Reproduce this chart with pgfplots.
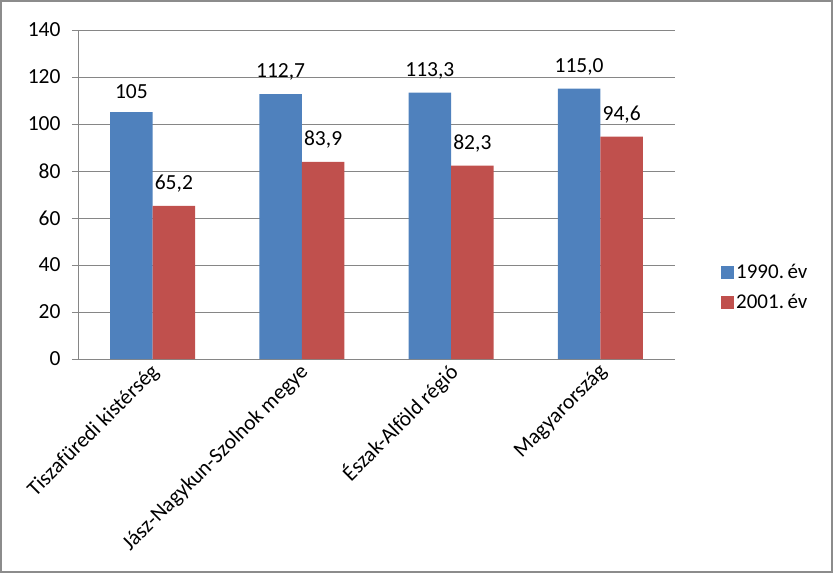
\documentclass[border=0pt]{standalone}
\usepackage{pgfplots}
\pgfplotsset{compat=1.18}
\usepackage{pgfplotstable}
\usepackage{fontspec}
\setmainfont{Carlito}
\definecolor{cblue}{HTML}{4F81BD}
\definecolor{cred}{HTML}{C0504D}
\definecolor{cgrid}{HTML}{868686}
\definecolor{cframe}{HTML}{8C8C8C}
\pgfplotstableread{
x y lab
0 105   105
1 112.7 {112,7}
2 113.3 {113,3}
3 115.0 {115,0}
}\dataA
\pgfplotstableread{
x y lab
0 65.2 {65,2}
1 83.9 {83,9}
2 82.3 {82,3}
3 94.6 {94,6}
}\dataB
\begin{document}
\begin{tikzpicture}
\useasboundingbox (0,0) rectangle (833pt,573pt);
\draw[cframe, line width=2pt] (1pt,1pt) rectangle (832pt,572pt);
\begin{axis}[
  at={(78pt,214pt)}, anchor=south west,
  scale only axis, width=597pt, height=329pt,
  font=\fontsize{21.5}{25}\selectfont,
  /pgf/number format/assume math mode=true,
  ybar=0pt, bar width=42.5pt,
  xmin=-0.5, xmax=3.5, ymin=0, ymax=140,
  ytick={0,20,...,140},
  axis x line*=bottom, axis y line*=left,
  axis line style={cgrid, line width=0.8pt, -},
  ymajorgrids, grid style={cgrid, line width=0.8pt},
  tick align=outside, major tick length=6pt,
  tick style={cgrid, line width=0.8pt},
  y tick label style={xshift=-8pt},
  xtick={0,1,2,3},
  xticklabels={Tiszafüredi kistérség, Jász-Nagykun-Szolnok megye, Észak-Alföld régió, Magyarország},
  x tick style={draw=none},
  extra x ticks={-0.5,0.5,1.5,2.5,3.5},
  extra x tick labels={},
  extra x tick style={grid=none, tick style={cgrid, line width=0.8pt, draw=cgrid}},
  x tick label style={rotate=45, anchor=east, yshift=-5pt, xshift=3pt},
  nodes near coords,
  point meta=explicit symbolic,
  every node near coord/.append style={font=\fontsize{21.5}{25}\selectfont, color=black, anchor=south, yshift=10pt},
  legend style={at={(1,0.219)}, anchor=west, xshift=43pt, draw=none, fill=none,
    font=\fontsize{21}{25}\selectfont, row sep=10pt},
  legend cell align=left,
  legend image code/.code={\fill[#1] (0pt,-7pt) rectangle (13pt,6pt);},
]
\addplot[fill=cblue, draw=none] table[x=x, y=y, meta=lab] {\dataA};
\addplot[fill=cred, draw=none] table[x=x, y=y, meta=lab] {\dataB};
\legend{1990.\,év, 2001.\,év}
\end{axis}
\end{tikzpicture}
\end{document}
